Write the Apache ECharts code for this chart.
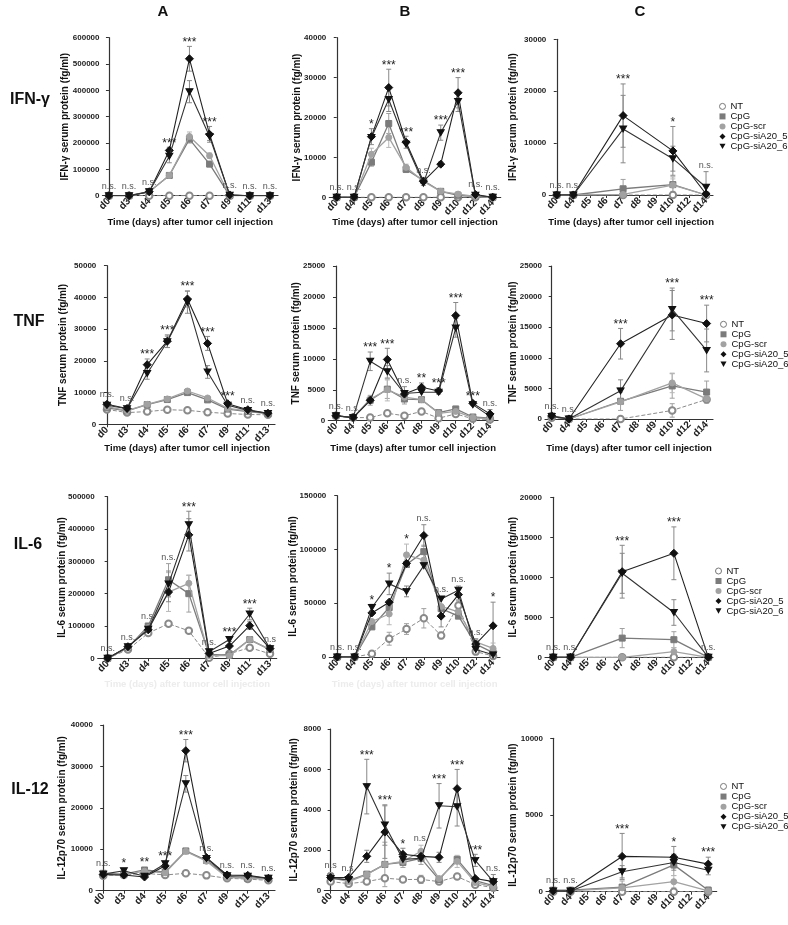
<!DOCTYPE html>
<html><head><meta charset="utf-8">
<script src="https://cdn.jsdelivr.net/npm/echarts@6/dist/echarts.min.js"></script>
<style>html,body{margin:0;padding:0;background:#fff}#c{width:788px;height:925px}</style>
</head><body><div id="c"></div><script>
// ---------- categories & labels ----------
const catsA = ['d0','d3','d4','d5','d6','d7','d9','d11','d13'];
const catsBC = ['d0','d4','d5','d6','d7','d8','d9','d10','d12','d14'];
const seriesNames = ['NT','CpG','CpG-scr','CpG-siA20_5','CpG-siA20_6'];
const xTitle = 'Time (days) after tumor cell injection';
const rowLabels = ['IFN-γ','TNF','IL-6','IL-12'];
const colLabels = ['A','B','C'];
// errors: [seriesIndex, categoryIndex, error]
// ---------- IFN-γ ----------
const ifnA_NT  = [0,0,0,0,0,0,0,0,0];
const ifnA_CpG = [0,0,15000,77000,215000,120000,0,0,0];
const ifnA_scr = [0,0,15000,77000,225000,152000,0,0,0];
const ifnA_s5  = [0,0,15000,172000,520000,233000,3000,0,0];
const ifnA_s6  = [0,0,15000,150000,395000,225000,2000,0,0];
const ifnA_err = [[1,4,15000],[1,5,10000],[2,4,17000],[2,5,10000],[3,3,12000],[3,4,47000],[3,5,30000],[4,3,25000],[4,4,42000],[4,5,15000]];
const ifnA_sig = ['n.s.','n.s.','n.s.','***','***','***','n.s.','n.s.','n.s.'];

const ifnB_NT  = [0,0,0,0,0,0,0,0,0,0];
const ifnB_CpG = [0,0,8800,18500,7000,4200,1500,500,200,0];
const ifnB_scr = [0,0,10800,15000,7500,4000,1500,800,200,0];
const ifnB_s5  = [0,0,15200,27500,13800,4000,8300,26200,700,0];
const ifnB_s6  = [0,0,15000,24500,13300,3500,16200,24000,500,0];
const ifnB_err = [[1,2,1000],[1,3,2500],[1,4,800],[2,2,1500],[2,3,2500],[2,4,800],[3,2,2000],[3,3,4600],[3,4,1500],[3,5,1000],[3,6,600],[3,7,3800],[4,3,3000],[4,6,1900],[4,7,2500],[1,7,800]];
const ifnB_sig = ['n.s.','n.s.','*','***','***','n.s.','***','***','n.s.','n.s.'];

const ifnC_NT  = [0,0,null,null,0,null,null,0,null,0];
const ifnC_CpG = [0,0,null,null,1200,null,null,2000,null,0];
const ifnC_scr = [0,0,null,null,100,null,null,1900,null,0];
const ifnC_s5  = [0,0,null,null,15300,null,null,8500,null,200];
const ifnC_s6  = [0,0,null,null,12700,null,null,7000,null,1500];
const ifnC_err = [[1,4,1800],[1,7,1500],[2,7,1200],[3,4,6100],[3,7,4700],[4,4,6500],[4,7,2400],[4,9,3000]];
const ifnC_sig = ['n.s.','n.s.','','','***','','','*','','n.s.'];
// ---------- TNF ----------
const tnfA_NT  = [4700,3700,4000,4600,4400,3800,3400,3100,3000];
const tnfA_CpG = [5200,4200,6200,7800,10000,7700,4800,4000,3400];
const tnfA_scr = [5600,4300,6300,8000,10500,8300,5000,4200,3500];
const tnfA_s5  = [6300,5000,18800,26200,39500,25500,6500,4600,3500];
const tnfA_s6  = [6000,4900,16000,26000,38500,16500,6000,4400,3400];
const tnfA_err = [[1,4,600],[2,4,700],[3,2,1800],[3,3,2000],[3,4,2500],[3,5,2200],[4,2,1800],[4,3,1800],[4,4,3500],[4,5,2000],[3,6,500]];
const tnfA_sig = ['n.s.','n.s.','***','***','***','***','***','n.s.','n.s.'];

const tnfB_NT  = [800,500,500,1200,800,1500,400,1100,300,200];
const tnfB_CpG = [800,500,3300,5100,3500,3400,1300,1900,600,400];
const tnfB_scr = [800,500,3500,5000,3800,3400,1200,1500,500,300];
const tnfB_s5  = [800,500,3300,9900,4300,5400,4800,17000,2800,1100];
const tnfB_s6  = [800,500,9600,7900,4400,4600,4600,15000,2600,700];
const tnfB_err = [[1,2,800],[1,3,1500],[2,3,1800],[1,4,800],[3,3,1800],[3,4,1200],[3,5,700],[3,6,500],[3,7,2100],[3,8,300],[3,9,700],[4,2,1500],[4,3,1000],[4,7,1500],[1,7,400]];
const tnfB_sig = ['n.s.','n.s.','***','***','n.s.','**','***','***','***','n.s.'];

const tnfC_NT  = [200,0,null,null,0,null,null,1400,null,3200];
const tnfC_CpG = [500,0,null,null,2900,null,null,5400,null,4400];
const tnfC_scr = [500,0,null,null,2800,null,null,5900,null,3300];
const tnfC_s5  = [500,0,null,null,12300,null,null,17000,null,15600];
const tnfC_s6  = [400,0,null,null,4600,null,null,17900,null,11200];
const tnfC_err = [[0,7,1100],[1,4,1500],[1,7,2000],[1,9,1800],[2,7,1600],[3,4,2500],[3,7,4000],[3,9,3000],[4,4,1800],[4,7,3500],[4,9,3500]];
const tnfC_sig = ['n.s.','n.s.','','','***','','','***','','***'];
// ---------- IL-6 ----------
const il6A_NT  = [0,27000,78000,107000,85000,2000,14000,33000,14000];
const il6A_CpG = [0,33000,100000,243000,200000,12000,10000,58000,27000];
const il6A_scr = [0,33000,95000,205000,232000,8000,8000,58000,27000];
const il6A_s5  = [0,36000,88000,205000,382000,15000,38000,101000,30000];
const il6A_s6  = [0,36000,90000,230000,413000,20000,58000,137000,30000];
const il6A_err = [[1,3,50000],[2,3,60000],[1,4,57000],[2,4,25000],[3,4,50000],[4,4,42000],[3,3,30000],[4,3,40000],[3,7,12000],[4,7,18000],[4,6,6000],[1,2,5000]];
const il6A_sig = ['n.s.','n.s.','n.s.','n.s.','***','n.s.','***','***','n.s'];

const il6B_NT  = [0,0,3000,17000,26000,36000,20000,48000,5000,1000];
const il6B_CpG = [0,0,28000,46000,86000,98000,45000,38000,12000,4000];
const il6B_scr = [0,0,33000,40000,95000,90000,47000,42000,14000,8000];
const il6B_s5  = [0,0,41000,51000,87000,113000,38000,58000,12000,29000];
const il6B_s6  = [0,0,46000,68000,61000,85000,54000,62000,7000,2000];
const il6B_err = [[0,5,9000],[0,6,3000],[0,7,4000],[0,4,5000],[0,3,6000],[1,3,6000],[2,3,10000],[2,4,10000],[1,5,6000],[3,5,10000],[4,3,10000],[4,4,5000],[3,6,10000],[3,7,5000],[4,7,4000],[3,9,22000],[4,2,3000],[3,8,5000],[2,9,5000]];
const il6B_sig = ['n.s.','n.s.','*','*','*','n.s.','n.s.','n.s.','n.s.','*'];

const il6C_NT  = [0,0,null,null,0,null,null,0,null,0];
const il6C_CpG = [0,0,null,null,2400,null,null,2200,null,0];
const il6C_scr = [0,0,null,null,0,null,null,700,null,0];
const il6C_s5  = [0,0,null,null,10700,null,null,13000,null,0];
const il6C_s6  = [0,0,null,null,10500,null,null,5600,null,0];
const il6C_err = [[1,4,1200],[1,7,1000],[2,7,500],[3,4,3300],[3,7,3300],[4,4,2500],[4,7,1600]];
const il6C_sig = ['n.s.','n.s.','','','***','','','***','','n.s.'];
// ---------- IL-12 ----------
const il12A_NT  = [3600,3800,4200,3800,4200,3700,3000,2800,2500];
const il12A_CpG = [4200,4000,5000,4500,9600,7300,3500,3000,3000];
const il12A_scr = [3800,3800,4700,4300,9500,7100,3200,3000,2800];
const il12A_s5  = [3900,3800,3300,6000,33800,8000,3800,3700,3000];
const il12A_s6  = [4000,4800,3500,6500,25800,7800,3600,3500,3000];
const il12A_err = [[3,4,2700],[4,4,2000],[3,3,600],[4,3,500],[4,1,500],[1,2,500],[1,4,400],[1,5,400]];
const il12A_sig = ['n.s.','*','**','***','***','n.s.','n.s.','n.s.','n.s.'];

const il12B_NT  = [450,350,450,620,550,560,450,700,300,150];
const il12B_CpG = [700,500,820,1300,1400,1600,550,1550,500,250];
const il12B_scr = [650,450,800,1300,1450,1950,600,1450,400,200];
const il12B_s5  = [650,650,1700,2900,1800,1700,1650,5050,600,450];
const il12B_s6  = [600,550,5150,3250,1550,1600,4200,4150,1500,450];
const il12B_err = [[0,0,80],[0,5,200],[0,7,100],[1,0,200],[1,3,1100],[1,5,300],[2,5,300],[2,7,300],[3,2,300],[3,3,1300],[3,4,300],[3,6,250],[3,7,950],[4,2,1350],[4,3,1000],[4,6,1100],[4,7,950],[4,8,300],[4,9,350],[1,4,250]];
const il12B_sig = ['n.s','n.s.','***','***','*','n.s.','***','***','***','n.s.'];

const il12C_NT  = [0,0,null,null,0,null,null,0,null,0];
const il12C_CpG = [100,100,null,null,300,null,null,1750,null,100];
const il12C_scr = [50,50,null,null,250,null,null,650,null,50];
const il12C_s5  = [50,50,null,null,2300,null,null,2250,null,1800];
const il12C_s6  = [50,50,null,null,1300,null,null,1900,null,1400];
const il12C_err = [[1,4,400],[1,7,700],[2,7,400],[3,4,1500],[3,7,700],[3,9,450],[4,4,400],[4,7,500],[4,9,300],[1,9,200]];
const il12C_sig = ['n.s.','n.s.','','','***','','','*','','***'];

// ---------- layout (pixel boxes: left, top, right, bottom) ----------
const panels = [
 {cats:catsA, d:[ifnA_NT,ifnA_CpG,ifnA_scr,ifnA_s5,ifnA_s6], err:ifnA_err, sig:ifnA_sig, max:600000, step:100000, yName:'IFN-γ serum protein (fg/ml)', box:[102.5,37.7,278,195.7], xr:[-0.32,8.4], yGap:32, xT:1, xGap:21.5},
 {cats:catsBC, d:[ifnB_NT,ifnB_CpG,ifnB_scr,ifnB_s5,ifnB_s6], err:ifnB_err, sig:ifnB_sig, max:40000, step:10000, yName:'IFN-γ serum protein (fg/ml)', box:[329.3,37.7,500.7,197.3], xr:[-0.43,9.46], yGap:27.5, xT:1, xGap:20},
 {cats:catsBC, d:[ifnC_NT,ifnC_CpG,ifnC_scr,ifnC_s5,ifnC_s6], err:ifnC_err, sig:ifnC_sig, max:30000, step:10000, yName:'IFN-γ serum protein (fg/ml)', box:[549.3,39.3,713,195], xr:[-0.45,9.42], yGap:31, xT:1, xGap:22.5, legend:[719,101.4,9.2]},
 {cats:catsA, d:[tnfA_NT,tnfA_CpG,tnfA_scr,tnfA_s5,tnfA_s6], err:tnfA_err, sig:tnfA_sig, max:50000, step:10000, yName:'TNF serum protein (fg/ml)', box:[99.3,265.7,275,424.3], xr:[-0.38,8.35], yGap:31, xT:1, xGap:19},
 {cats:catsBC, d:[tnfB_NT,tnfB_CpG,tnfB_scr,tnfB_s5,tnfB_s6], err:tnfB_err, sig:tnfB_sig, max:25000, step:5000, yName:'TNF serum protein (fg/ml)', box:[328.3,266,498,420.7], xr:[-0.45,9.47], yGap:27.5, xT:1, xGap:22.8},
 {cats:catsBC, d:[tnfC_NT,tnfC_CpG,tnfC_scr,tnfC_s5,tnfC_s6], err:tnfC_err, sig:tnfC_sig, max:25000, step:5000, yName:'TNF serum protein (fg/ml)', box:[545,266,713,419], xr:[-0.39,9.37], yGap:27, xT:1, xGap:24.5, legend:[720,319.3,9.8]},
 {cats:catsA, d:[il6A_NT,il6A_CpG,il6A_scr,il6A_s5,il6A_s6], err:il6A_err, sig:il6A_sig, max:500000, step:100000, yName:'IL-6 serum protein (fg/ml)', box:[97.7,496.7,276.7,658.3], xr:[-0.49,8.33], yGap:30.5, xT:2, xGap:21},
 {cats:catsBC, d:[il6B_NT,il6B_CpG,il6B_scr,il6B_s5,il6B_s6], err:il6B_err, sig:il6B_sig, max:150000, step:50000, yName:'IL-6 serum protein (fg/ml)', box:[329.3,495.7,500,657], xr:[-0.46,9.4], yGap:31, xT:2, xGap:22.5},
 {cats:catsBC, d:[il6C_NT,il6C_CpG,il6C_scr,il6C_s5,il6C_s6], err:il6C_err, sig:il6C_sig, max:20000, step:5000, yName:'IL-6 serum protein (fg/ml)', box:[545,497.3,713,657.3], xr:[-0.48,9.27], yGap:27, xT:0, xGap:22, legend:[715,566,9.9]},
 {cats:catsA, d:[il12A_NT,il12A_CpG,il12A_scr,il12A_s5,il12A_s6], err:il12A_err, sig:il12A_sig, max:40000, step:10000, yName:'IL-12p70 serum protein (fg/ml)', box:[96,725,275,890.7], xr:[-0.35,8.32], yGap:29, xT:0, xGap:22},
 {cats:catsBC, d:[il12B_NT,il12B_CpG,il12B_scr,il12B_s5,il12B_s6], err:il12B_err, sig:il12B_sig, max:8000, step:2000, yName:'IL-12p70 serum protein (fg/ml)', box:[324.3,729,498,890.7], xr:[-0.35,9.26], yGap:25, xT:0, xGap:22},
 {cats:catsBC, d:[il12C_NT,il12C_CpG,il12C_scr,il12C_s5,il12C_s6], err:il12C_err, sig:il12C_sig, max:10000, step:5000, yName:'IL-12p70 serum protein (fg/ml)', box:[546,738.3,716.7,891.7], xr:[-0.42,9.49], yGap:27.5, xT:0, xGap:22, legend:[720,781.4,10.1]}
];

const FONT = '"Liberation Sans", Arial, Helvetica, sans-serif';
const styles = [
 {symbol:'emptyCircle', size:6.5, color:'#8a8a8a', line:'#8a8a8a', type:'dashed', w:1},
 {symbol:'rect', size:6, color:'#7b7b7b', line:'#7b7b7b', type:'solid', w:1.3},
 {symbol:'circle', size:6, color:'#a2a2a2', line:'#a2a2a2', type:'solid', w:1.3},
 {symbol:'diamond', size:8, color:'#111', line:'#222', type:'solid', w:1.1},
 {symbol:'path://M0,0L10,0L5,9Z', size:[7,6], color:'#111', line:'#333', type:'solid', w:1.1}
];
const errCol = ['#a0a0a0','#a0a0a0','#b8b8b8','#888','#888'];

const grids=[], xAxes=[], yAxes=[], series=[], legends=[];
const axisCol = '#333';
panels.forEach((p,k)=>{
  const [l,t,r,b] = p.box;
  grids.push({left:l, top:t, width:r-l, height:b-t, containLabel:false});
  const idx = p.cats.map((c,i)=>i);
  xAxes.push({type:'value', gridIndex:k, min:p.xr[0], max:p.xr[1], splitLine:{show:false},
    axisLine:{show:true, onZero:false, lineStyle:{color:axisCol, width:1.2}},
    axisTick:{show:true, customValues:idx, length:3, lineStyle:{color:axisCol, width:1}},
    axisLabel:{show:true, customValues:idx, rotate:45, margin:4, formatter:v=>p.cats[Math.round(v)]||'',
      fontFamily:FONT, fontWeight:'bold', fontSize:10, color:'#222'},
    name: p.xT ? xTitle : '', nameLocation:'middle', nameGap:p.xGap, nameMoveOverlap:false,
    nameTextStyle:{fontFamily:FONT, fontWeight:'bold', fontSize:9.5, color: p.xT===2 ? '#ececec' : '#111'}
  });
  yAxes.push({type:'value', gridIndex:k, min:0, max:p.max, interval:p.step, splitLine:{show:false},
    axisLine:{show:true, lineStyle:{color:axisCol, width:1.2}},
    axisTick:{show:true, length:3, lineStyle:{color:axisCol}},
    axisLabel:{formatter:v=>String(v), fontFamily:FONT, fontWeight:'bold', fontSize:8, color:'#222', margin:3},
    name:p.yName, nameLocation:'middle', nameRotate:90, nameGap:p.yGap, nameMoveOverlap:false,
    nameTextStyle:{fontFamily:FONT, fontWeight:'bold', fontSize:10, color:'#111'}
  });
  const errOf = (s,i)=>{ for(const e of p.err){ if(e[0]===s && e[1]===i) return e[2]; } return 0; };
  // error bars
  series.push({type:'custom', xAxisIndex:k, yAxisIndex:k, z:1, silent:true,
    data: p.err.map(([s,i,e])=>{ const v=p.d[s][i]; return [i, Math.max(0,v-e), v+e, s]; }),
    encode:{x:0, y:[1,2]},
    renderItem:(params, api)=>{
      const x=api.value(0), lo=api.coord([x, api.value(1)]), hi=api.coord([x, api.value(2)]);
      const col=errCol[api.value(3)], w=2.5;
      return {type:'group', children:[
        {type:'line', shape:{x1:lo[0],y1:lo[1],x2:hi[0],y2:hi[1]}, style:{stroke:col, lineWidth:1}},
        {type:'line', shape:{x1:hi[0]-w,y1:hi[1],x2:hi[0]+w,y2:hi[1]}, style:{stroke:col, lineWidth:1}},
        {type:'line', shape:{x1:lo[0]-w,y1:lo[1],x2:lo[0]+w,y2:lo[1]}, style:{stroke:col, lineWidth:1}}
      ]};
    }});
  // lines
  p.d.forEach((arr,s)=>{
    const st = styles[s];
    series.push({type:'line', name:seriesNames[s], xAxisIndex:k, yAxisIndex:k, z:2+s, silent:true, animation:false,
      data: arr.map((v,i)=> v==null ? null : [i,v]).filter(Boolean),
      symbol:st.symbol, symbolSize:st.size, showAllSymbol:true,
      itemStyle:{color:st.color, borderColor:st.color, borderWidth:1},
      lineStyle:{color:st.line, width:st.w, type:st.type}});
  });
  // significance labels
  const sigData = [];
  p.sig.forEach((txt,i)=>{
    if(!txt) return;
    let mErr=0, mPt=0;
    for(let s=0;s<5;s++){ const v=p.d[s][i]; if(v==null) continue; mPt=Math.max(mPt,v); mErr=Math.max(mErr, v+errOf(s,i)); }
    sigData.push([i, mErr, mPt, txt]);
  });
  series.push({type:'custom', xAxisIndex:k, yAxisIndex:k, z:10, silent:true,
    data: sigData.map(d=>[d[0], d[1], d[2]]), encode:{x:0, y:1},
    renderItem:(params, api)=>{
      const d = sigData[params.dataIndex];
      const a=api.coord([d[0], d[1]]), b=api.coord([d[0], d[2]]);
      const y=Math.min(a[1]-2, b[1]-5);
      const star = d[3].indexOf('*')>=0;
      return {type:'text', x:a[0], y: star ? y+4 : y, style:{text:d[3], textAlign:'center', textVerticalAlign:'bottom', align:'center', verticalAlign:'bottom',
        fill: star ? '#222' : '#555', font: (star ? '12px ' : '9px ') + FONT}};
    }});
  if(p.legend){
    legends.push({left:p.legend[0], top:p.legend[1], orient:'vertical', itemWidth:6, itemHeight:6, itemGap:0, padding:0, selectedMode:false,
      textStyle:{fontFamily:FONT, fontSize:9.5, color:'#111', lineHeight:p.legend[2]},
      data:[
        {name:'NT', icon:'circle', itemStyle:{color:'#fff', borderColor:'#777', borderWidth:1}},
        {name:'CpG', icon:'rect', itemStyle:{color:'#7b7b7b', borderWidth:0}},
        {name:'CpG-scr', icon:'circle', itemStyle:{color:'#a2a2a2', borderWidth:0}},
        {name:'CpG-siA20_5', icon:'diamond', itemStyle:{color:'#111', borderWidth:0}},
        {name:'CpG-siA20_6', icon:'path://M0,0L10,0L5,9Z', itemStyle:{color:'#111', borderWidth:0}}
      ]});
  }
});

const headFont = 'bold 15px ' + FONT;
const graphic = [
  {type:'text', x:163, y:12, style:{text:colLabels[0], font:headFont, textAlign:'center', textVerticalAlign:'middle', align:'center', verticalAlign:'middle', fill:'#111'}},
  {type:'text', x:405, y:12, style:{text:colLabels[1], font:headFont, textAlign:'center', textVerticalAlign:'middle', align:'center', verticalAlign:'middle', fill:'#111'}},
  {type:'text', x:640, y:12, style:{text:colLabels[2], font:headFont, textAlign:'center', textVerticalAlign:'middle', align:'center', verticalAlign:'middle', fill:'#111'}},
  {type:'text', x:30, y:100, style:{text:rowLabels[0], font:'bold 16px '+FONT, textAlign:'center', textVerticalAlign:'middle', align:'center', verticalAlign:'middle', fill:'#111'}},
  {type:'text', x:29, y:322, style:{text:rowLabels[1], font:'bold 16px '+FONT, textAlign:'center', textVerticalAlign:'middle', align:'center', verticalAlign:'middle', fill:'#111'}},
  {type:'text', x:28, y:545, style:{text:rowLabels[2], font:'bold 16px '+FONT, textAlign:'center', textVerticalAlign:'middle', align:'center', verticalAlign:'middle', fill:'#111'}},
  {type:'text', x:30, y:790, style:{text:rowLabels[3], font:'bold 16px '+FONT, textAlign:'center', textVerticalAlign:'middle', align:'center', verticalAlign:'middle', fill:'#111'}}
];

const chart = echarts.init(document.getElementById('c'), null, {width:788, height:925});
chart.setOption({animation:false, backgroundColor:'#fff', grid:grids, xAxis:xAxes, yAxis:yAxes, series:series, legend:legends, graphic:graphic, tooltip:{show:false}});
</script></body></html>
